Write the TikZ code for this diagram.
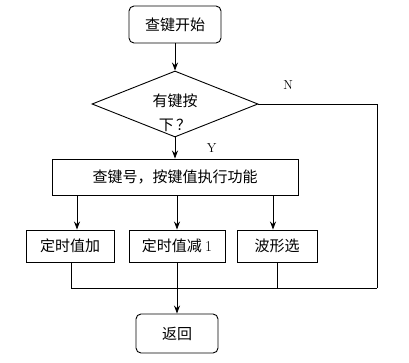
\documentclass[tikz,border=0pt]{standalone}
\usepackage{fontspec}
\newfontfamily\cjk{Noto Sans CJK SC}
\usetikzlibrary{arrows.meta,shapes.geometric,positioning}

\begin{document}
\begin{tikzpicture}[x=1pt, y=-1pt, >={Stealth[length=8pt,width=6pt]}, line width=0.9pt,
  box/.style={draw, rectangle, inner sep=0pt, font=\cjk\fontsize{15}{17}\selectfont},
  term/.style={box, rounded corners=5pt},
  decide/.style={draw, diamond, inner sep=0pt, minimum width=166pt, minimum height=66pt},
  yn/.style={font=\fontsize{13}{13}\selectfont}]
\path[use as bounding box] (0,0) rectangle (409,362);
\node[term, minimum width=92pt, minimum height=37pt] (start) at (175,24.5) {查键开始};
\node[decide, label={[yshift=-9pt, align=center, font=\cjk\fontsize{15}{24}\selectfont]center:有键按\\下\,？}] (dia) at (175,104) {};
\node[box, minimum width=246pt, minimum height=36pt] (proc) at (175,177) {查键号，按键值执行功能};
\node[box, minimum width=88pt, minimum height=32pt] (add) at (70,246) {定时值加};
\node[box, minimum width=96pt, minimum height=32pt] (sub) at (177,246) {定时值减 {\rmfamily 1}};
\node[box, minimum width=80pt, minimum height=32pt] (wave) at (277,246) {波形选};
\node[term, minimum width=82pt, minimum height=39pt] (ret) at (177,333.5) {返回};
\coordinate (nr) at (377,104);
\coordinate (nb) at (377,288);
\path[->] (start) edge (dia);
\path[->] (dia) edge node[midway, right=28pt, yn] {Y} (proc);
\draw (dia.east) -- node[pos=0.25, above=11pt, yn] {N} (nr) -- (nb);
\draw[->] ([xshift=7pt]add.north |- proc.south) -- ([xshift=7pt]add.north);
\draw[->] (sub.north |- proc.south) -- (sub.north);
\draw[->] ([xshift=-4pt]wave.north |- proc.south) -- ([xshift=-4pt]wave.north);
\draw ([xshift=1pt]add.south) |- (nb);
\draw (wave.south) -- (wave.south |- nb);
\path[->] (sub) edge (ret);
\end{tikzpicture}
\end{document}
